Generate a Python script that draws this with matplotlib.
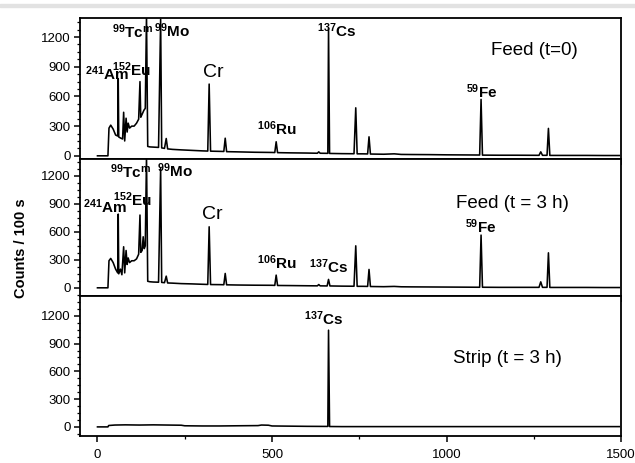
import numpy as np
import matplotlib
matplotlib.use('Agg')
import matplotlib.pyplot as plt
from matplotlib.ticker import MultipleLocator, FixedLocator

plt.rcParams['font.family'] = ['Liberation Sans', 'DejaVu Sans']
plt.rcParams['mathtext.fontset'] = 'custom'
plt.rcParams['mathtext.rm'] = 'Liberation Sans'
plt.rcParams['mathtext.bf'] = 'Liberation Sans:bold'
plt.rcParams['mathtext.default'] = 'regular'

# energy (keV) / counts
feed0_e = [0, 30, 33, 38, 45, 52, 58, 59.5, 61, 66, 72, 75, 78, 82, 85, 88, 92,
           98, 105, 112, 118, 121.8, 124, 128, 133, 137, 140.5, 144, 150, 160,
           175, 181, 184, 192, 197, 201, 215, 240, 270, 300, 316, 320, 324, 350,
           362, 366, 370, 400, 450, 500, 508, 512, 516, 550, 600, 630, 634, 638,
           660, 662, 665, 700, 735, 740, 744, 760, 774, 778, 782, 820, 850, 870,
           900, 950, 1000, 1050, 1095, 1099, 1103, 1150, 1200, 1265, 1270, 1275,
           1288, 1292, 1296, 1350, 1400, 1450, 1495]
feed0_c = [0, 0, 280, 310, 270, 210, 200, 780, 190, 180, 170, 440, 150, 380, 240,
           330, 280, 300, 300, 330, 370, 750, 390, 420, 460, 480, 1420, 95, 90,
           88, 85, 1380, 80, 75, 175, 70, 65, 60, 55, 50, 48, 725, 47, 45, 44,
           178, 42, 40, 36, 34, 33, 142, 32, 30, 28, 26, 40, 26, 25, 1290, 24,
           22, 21, 485, 20, 20, 19, 192, 18, 16, 20, 14, 13, 12, 10, 9, 8, 570,
           7, 6, 6, 5, 40, 5, 5, 277, 4, 4, 4, 3, 3]

feed3_e = [0, 30, 33, 38, 45, 52, 58, 59.5, 61, 66, 70, 75, 78, 82, 85, 88, 92,
           98, 105, 112, 118, 121.8, 124, 128, 131, 134, 137, 140.5, 144, 150,
           160, 175, 181, 184, 192, 197, 201, 215, 240, 270, 300, 316, 320, 324,
           350, 362, 366, 370, 400, 450, 500, 508, 512, 516, 550, 600, 630, 634,
           638, 658, 662, 666, 700, 735, 740, 744, 760, 774, 778, 782, 820, 850,
           870, 900, 950, 1000, 1050, 1095, 1099, 1103, 1150, 1200, 1265, 1270,
           1275, 1288, 1292, 1296, 1350, 1400, 1450, 1495]
feed3_c = [0, 0, 290, 315, 270, 200, 160, 790, 150, 200, 140, 440, 160, 400, 250,
           320, 270, 290, 290, 310, 360, 780, 380, 400, 547, 420, 450, 1420, 70,
           65, 62, 60, 1280, 58, 55, 125, 52, 50, 45, 42, 38, 36, 654, 35, 34,
           33, 154, 32, 30, 28, 27, 26, 136, 25, 24, 22, 21, 35, 21, 20, 90, 20,
           18, 17, 450, 16, 16, 15, 197, 14, 12, 15, 11, 10, 9, 8, 7, 6, 565, 6,
           5, 5, 5, 64, 5, 5, 375, 4, 4, 4, 3, 3]

strip_e = [0, 30, 32, 50, 80, 120, 160, 200, 240, 250, 300, 350, 400, 460, 470,
           490, 500, 550, 600, 655, 660, 662, 665, 700, 800, 900, 1000, 1100,
           1200, 1300, 1400, 1495]
strip_c = [0, 0, 15, 20, 22, 20, 22, 20, 18, 12, 10, 10, 12, 14, 20, 18, 10, 8,
           6, 5, 5, 1045, 4, 3, 3, 3, 3, 3, 3, 3, 3, 3]

panel_titles = ['Feed (t=0)', 'Feed (t = 3 h)', 'Strip (t = 3 h)']

# (label, x, y, bold) for each panel
labels0 = [(r'$\mathbf{^{241}Am}$', -35, 765, True),
           (r'$\mathbf{^{152}Eu}$', 42, 806, True),
           (r'$\mathbf{^{99}Tc^{m}}$', 42, 1190, True),
           (r'$\mathbf{^{99}Mo}$', 162, 1200, True),
           ('Cr', 302, 797, False),
           (r'$\mathbf{^{106}Ru}$', 456, 209, True),
           (r'$\mathbf{^{137}Cs}$', 628, 1200, True),
           (r'$\mathbf{^{59}Fe}$', 1056, 583, True)]
labels3 = [(r'$\mathbf{^{241}Am}$', -41, 804, True),
           (r'$\mathbf{^{152}Eu}$', 45, 876, True),
           (r'$\mathbf{^{99}Tc^{m}}$', 37, 1172, True),
           (r'$\mathbf{^{99}Mo}$', 171, 1190, True),
           ('Cr', 299, 733, False),
           (r'$\mathbf{^{106}Ru}$', 456, 197, True),
           (r'$\mathbf{^{137}Cs}$', 605, 161, True),
           (r'$\mathbf{^{59}Fe}$', 1053, 583, True)]
labels_s = [(r'$\mathbf{^{137}Cs}$', 593, 1100, True)]

spectra = [(feed0_e, feed0_c), (feed3_e, feed3_c), (strip_e, strip_c)]
all_labels = [labels0, labels3, labels_s]
title_pos = [(1128, 1069), (1027, 908), (1019, 743)]
ylims = [(-28, 1392), (-89, 1385), (-100, 1413)]

fig, axes = plt.subplots(3, 1, sharex=True, figsize=(6.35, 4.63), dpi=100,
                         gridspec_kw={'height_ratios': [140.5, 137.5, 140]})
fig.subplots_adjust(left=0.126, right=0.978, top=0.961, bottom=0.058, hspace=0)

# thin grey band across the top of the picture
fig.patches.append(plt.Rectangle((0, 1 - 7 / 463), 1, 3 / 463,
                                 transform=fig.transFigure, color='#e2e2e2',
                                 zorder=0))

for i, ax in enumerate(axes):
    e, c = spectra[i]
    ax.plot(e, c, color='black', lw=1.15)
    ax.set_xlim(-50, 1500)
    ax.set_ylim(*ylims[i])
    ax.yaxis.set_major_locator(FixedLocator([0, 300, 600, 900, 1200]))
    ax.yaxis.set_minor_locator(MultipleLocator(75))
    ax.xaxis.set_major_locator(FixedLocator([0, 500, 1000, 1500]))
    ax.xaxis.set_minor_locator(FixedLocator([250, 750, 1250]))
    ax.tick_params(axis='both', which='major', direction='out', length=4.5,
                   width=1.1, labelsize=9.5, pad=2)
    ax.tick_params(axis='x', which='major', pad=5)
    ax.tick_params(axis='both', which='minor', direction='out', length=2.5,
                   width=0.9)
    if i < 2:
        ax.tick_params(axis='x', which='minor', length=0)
    for sp in ax.spines.values():
        sp.set_linewidth(1.3)

    tx, ty = title_pos[i]
    ax.text(tx, ty, panel_titles[i], fontsize=13.5, va='center', ha='left')
    for txt, x, y, bold in all_labels[i]:
        ax.text(x, y, txt, fontsize=11 if bold else 14, ha='left',
                va='baseline')

axes[1].set_ylabel('Counts / 100 s', fontsize=10.5, fontweight='bold')
axes[1].yaxis.set_label_coords(-0.097, 0.35)

fig.savefig('out.png', dpi=100)
